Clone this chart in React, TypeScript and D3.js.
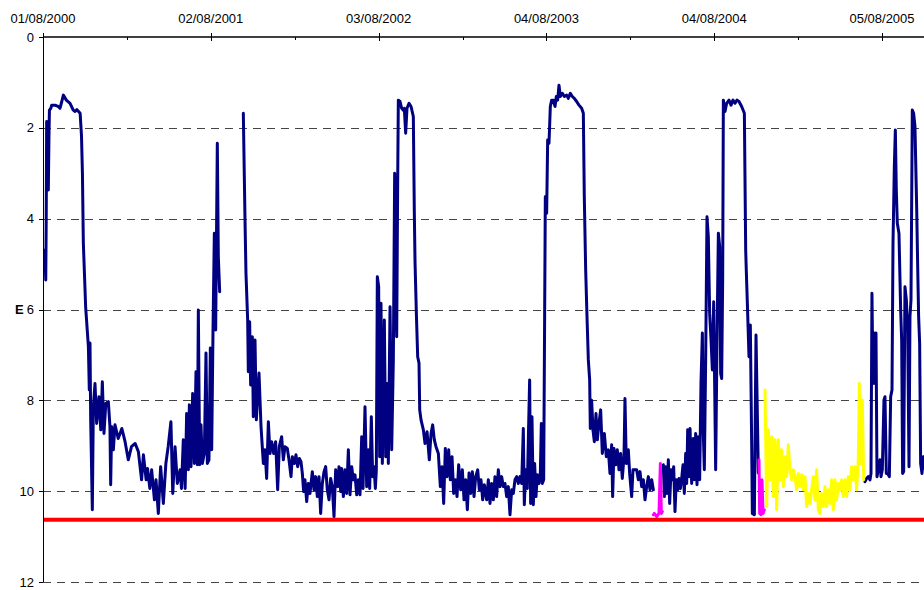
import React from "react";
import * as d3 from "d3";

type Pt = [number, number];

// x in days since 01/08/2000, y = depth value
const xTickDays = [0, 366, 732, 1098, 1464, 1830];
const xTickLabels = ["01/08/2000", "02/08/2001", "03/08/2002", "04/08/2003", "04/08/2004", "05/08/2005"];
const minorTickDays = [183, 549, 915, 1281, 1647];
const yTicks = [0, 2, 4, 6, 8, 10, 12];
const gridTicks = [2, 4, 6, 8, 10, 12];
const thresholdDepth = 10.63;

const navySeg1: Pt[] = [
  [4, 4.69], [6, 5.35], [7, 4.0], [8, 1.86], [10, 1.9], [11.6, 3.37], [13, 2.2], [14, 1.61], [17, 1.57], [19, 1.5], [26, 1.5], [33, 1.53], [37, 1.57], [41, 1.42], [44.4, 1.28], [51, 1.39], [59, 1.46], [66, 1.61], [70, 1.64], [74, 1.6], [81, 1.68], [84, 2.19], [86, 3.0], [88, 4.54], [93, 5.94], [99, 6.82], [101, 7.77], [102.5, 6.74], [104, 8.43], [107.6, 10.41], [109.8, 8.14], [113.4, 7.63], [117, 8.51], [122, 7.92], [126, 8.65], [129.4, 7.59], [133, 8.73], [137, 8.07], [142.5, 8.03], [146, 8.58], [147.6, 9.86], [149.8, 8.58], [153.4, 9.09], [157, 8.54], [164, 8.84], [172, 8.62], [179, 8.91], [186, 9.31], [193, 9.02], [201, 8.95], [208, 9.13], [215, 9.75], [219, 9.2], [225, 9.75], [228, 9.5], [233, 9.94], [237, 9.53], [243, 10.19], [246.5, 9.75], [251.5, 10.49], [256.6, 9.46], [262.5, 10.27], [268, 9.39], [273, 9.02], [279, 8.47], [283, 10.05], [288, 9.02], [293, 9.83], [299, 9.53], [302, 9.94], [306, 8.87], [310, 9.94],
  [313.3, 8.29], [317, 9.53], [319.2, 8.1], [322.8, 9.46], [326.4, 7.85], [330.1, 9.39], [333.7, 7.37], [336.6, 9.42], [338.8, 6.01], [341.7, 9.42], [344.6, 8.54], [347.5, 9.39], [351.9, 9.17], [355.5, 6.96], [358.4, 9.39], [362, 9.31], [365, 6.85], [367.9, 9.09], [370.8, 6.45], [373.7, 4.32], [376.6, 6.45], [380.2, 2.34], [382.4, 4.84], [385.3, 5.61],
];

const navySeg2: Pt[] = [
  [436.9, 1.68], [440.6, 4.03], [442.7, 5.2], [446.4, 6.23], [447.8, 7.37], [450.7, 6.27], [452.9, 7.66], [456.6, 6.6], [458.7, 8.36], [462.4, 6.67], [465.3, 8.43], [471.1, 7.4], [475.5, 8.58], [480.6, 9.39], [484.2, 9.09], [487.8, 9.72], [491.5, 8.47], [495.1, 9.17], [498.7, 8.91], [503.1, 9.17], [507.4, 8.91], [511.8, 9.97], [515.4, 9.02], [520.5, 8.8], [524.2, 9.31], [527.8, 9.02], [532.9, 9.06], [536.5, 9.31], [540.9, 9.68], [543.8, 9.24], [548.2, 9.39], [551.8, 9.2], [555.4, 9.46], [559.1, 9.28], [562.7, 9.35], [565.6, 9.61], [568.5, 10.01], [571.4, 9.75], [575.1, 10.23], [578.7, 9.83], [582.3, 10.05], [587.4, 9.57], [591.1, 9.97], [594.7, 9.68], [598.3, 10.12], [602, 9.68], [605.6, 10.49], [609.2, 9.83], [612.9, 9.57], [616.5, 9.46], [620.1, 9.97], [623.8, 10.19], [627.4, 9.72], [631, 9.9], [634.7, 10.56], [638.3, 9.53], [642.7, 9.9],
  [645.6, 9.46], [649.3, 10.01], [651.4, 9.5], [655.1, 10.12], [658.7, 9.53], [662.3, 10.05], [666, 9.09], [669.6, 10.08], [673.3, 9.46], [676.9, 9.75], [680.5, 9.64], [684.2, 10.08], [687.8, 9.75], [691.4, 10.08], [695.1, 8.8], [698, 9.94], [702.3, 8.14], [706, 9.9], [709.6, 9.09], [712.5, 9.94], [716.1, 8.36], [719, 9.68], [722, 9.46], [724.9, 9.94], [727, 9.53], [729.2, 5.28], [732.1, 5.5], [734.3, 9.24], [737.2, 5.86], [740.1, 9.39], [744.5, 6.23], [747.4, 9.24], [750.3, 7.63], [753.2, 9.39], [756.9, 5.94], [760.5, 9.09], [764.1, 7.11], [767, 3.0], [769.2, 5.35], [771.4, 6.6], [773.6, 3.15], [775, 1.39], [778.7, 1.42], [782.3, 1.57], [785.9, 1.61], [788.1, 1.57], [791, 2.12], [793.9, 1.57], [798.3, 1.46], [802.7, 1.53], [807.7, 1.75], [809.9, 3.88], [811.4, 4.95], [814.3, 6.08], [817.2, 7.04], [820.1, 7.18], [821.6, 8.21], [824.5, 8.43], [829.6, 8.65], [833.2, 8.95], [837.6, 8.69], [842.6, 9.31], [846.3, 8.73], [849.9, 8.54], [853.5, 8.87], [857.2, 9.02], [862.3, 9.17], [866.6, 9.9], [870.3, 9.46], [873.9, 10.27], [877.5, 9.06], [881.2, 9.68], [884.8, 9.09], [888.4, 9.75], [892.1, 9.24], [895.7, 10.05], [899.3, 9.75], [903, 10.12], [906.6, 9.42], [911, 9.97], [914.6, 9.53], [918.3, 10.19], [921.9, 9.75], [925.5, 10.41], [929.2, 9.6], [932.8, 10.05], [936.4, 9.57], [940.1, 10.12], [943.7, 9.68], [948.1, 9.53], [951.7, 9.97], [955.3, 9.75], [959, 10.19], [962.6, 9.86],
  [967.6, 10.19], [971.3, 9.75], [974.9, 10.27], [978.5, 9.83], [982.2, 10.19], [985.8, 9.68], [989.4, 10.12], [993.1, 9.53], [996.7, 9.9], [1000.4, 9.68], [1004, 9.9], [1007.6, 9.83], [1011.3, 10.12], [1014.9, 9.9], [1018.5, 10.52], [1022.2, 9.97], [1025.8, 10.05], [1029.4, 9.75], [1033.1, 9.68], [1036.7, 9.83], [1040.3, 9.68], [1044, 9.83], [1047.6, 8.62], [1049.8, 10.3], [1052.7, 9.53], [1056.3, 9.94], [1058.5, 8.87], [1061.4, 7.55], [1063.6, 10.27], [1066.5, 8.36], [1069.4, 10.3], [1072.3, 9.39], [1075.2, 10.12], [1078.1, 9.64], [1081.8, 9.83], [1084.7, 9.61], [1086.9, 8.51], [1089, 9.83], [1092, 9.75], [1094.1, 6.16], [1095.6, 3.52], [1098.5, 3.88], [1100.7, 2.27], [1103.6, 2.34], [1106.5, 1.53], [1109.4, 1.39], [1113, 1.39], [1116.7, 1.53], [1119.6, 1.31], [1122.5, 1.39], [1125.4, 1.06], [1128.3, 1.31], [1132.7, 1.24], [1137, 1.31], [1142.1, 1.28], [1145.8, 1.35], [1150.1, 1.24], [1154.5, 1.31], [1158.8, 1.35], [1163.9, 1.42], [1169, 1.5], [1174.8, 1.57], [1178.5, 1.68], [1180.6, 3.52], [1183.6, 5.13], [1186.5, 6.16], [1189.4, 7.11], [1192.3, 7.55], [1193.7, 8.62], [1196.6, 8.0], [1199.5, 8.65], [1202.5, 8.91], [1206.1, 8.29], [1209, 8.87], [1212.6, 8.51], [1216.3, 8.21], [1219.9, 9.17], [1224.3, 8.73], [1228.6, 9.24], [1233, 9.09], [1236.6, 9.61], [1240.3, 8.98], [1242.4, 10.12], [1245.3, 9.06], [1249, 9.42], [1252.6, 9.09], [1256.3, 9.53], [1259.9, 9.17], [1263.5, 9.72], [1267.2, 9.24], [1269.3, 7.96], [1272.2, 9.39], [1276.6, 9.09], [1279.5, 9.61], [1283.9, 10.12], [1286.8, 9.53],
  [1294.8, 9.53], [1298.5, 9.75], [1302.1, 9.57], [1305.7, 9.9], [1309.4, 9.75], [1313, 10.19], [1316.6, 9.9], [1320.3, 9.68], [1323.9, 9.97], [1327.6, 9.75], [1331.2, 9.97],
];

const navySeg3: Pt[] = [
  [1353, 9.42], [1355.2, 10.12], [1358.1, 9.46], [1361, 10.05], [1363.9, 9.31], [1366.8, 10.27], [1369.7, 9.53], [1372.6, 9.75], [1375.5, 9.46], [1378.4, 10.45], [1381.3, 9.75], [1384.3, 9.97], [1387.2, 9.72], [1390.1, 9.94], [1393, 9.72], [1395.9, 9.42], [1398.8, 10.05], [1401.7, 9.17], [1403.9, 9.83], [1406.1, 8.65], [1409, 9.68], [1411.2, 8.62], [1414.8, 9.83], [1418.4, 8.84], [1420.6, 9.75], [1423.5, 8.73], [1426.4, 9.86], [1429.3, 8.8], [1432.2, 9.75], [1435.1, 7.63], [1438.1, 6.52], [1440.2, 8.73], [1442.4, 9.53], [1445.3, 7.11], [1448.2, 3.96], [1451.1, 4.4], [1454, 6.08], [1457, 6.67], [1459.9, 7.33], [1462.8, 5.83], [1465, 7.7], [1467.1, 9.53], [1470, 6.74], [1473, 4.32], [1475.9, 4.62], [1478, 7.41], [1480.2, 7.52], [1482.4, 5.35], [1483.9, 1.39], [1487.5, 1.64], [1491.1, 1.46], [1496.2, 1.39], [1500.6, 1.5], [1504.9, 1.39], [1509.3, 1.46], [1513.7, 1.39], [1518, 1.42], [1523.8, 1.53], [1529.7, 1.68], [1532.6, 4.69], [1534, 5.17], [1536.9, 6.08], [1539.8, 7.04], [1542.7, 6.34], [1545.7, 9.02], [1547.1, 10.49], [1551.5, 10.52], [1555.1, 6.56], [1558, 8.29], [1560.2, 9.6],
];

const navySeg4: Pt[] = [
  [1792.8, 9.79], [1796.4, 9.72], [1800, 9.68], [1803.7, 9.75], [1805.9, 9.61], [1808, 5.64], [1810.2, 7.63], [1812.4, 6.52], [1814.6, 7.63], [1816.8, 6.52], [1819, 9.68], [1821.9, 9.53], [1825.5, 9.31], [1827.7, 9.68], [1830.6, 9.53], [1834.2, 7.99], [1836.4, 7.92], [1839.3, 9.61], [1842.2, 9.61], [1845.9, 9.68], [1848.8, 7.92], [1851.7, 7.77], [1853.9, 4.54], [1856.8, 2.85], [1859, 2.05], [1861.1, 3.37], [1863.3, 4.1], [1866.9, 4.32], [1870.6, 6.01], [1872.8, 6.67], [1874.9, 9.61], [1877.1, 9.57], [1880, 5.5], [1883, 5.79], [1885.9, 6.45], [1888.8, 9.46], [1890.9, 6.16], [1893.1, 5.79], [1894.6, 3.66], [1896, 1.61], [1898.9, 1.68], [1901.8, 1.97], [1905.5, 3.74], [1907.6, 4.98], [1909.8, 6.16], [1912, 6.74], [1914.2, 9.39], [1917.1, 9.61], [1920, 9.24], [1923, 9.5],
];

const magentaSeg1: Pt[] = [
  [1331.2, 10.52], [1333.4, 10.49], [1338.5, 10.56], [1343.5, 10.49], [1346.5, 9.39], [1348.6, 10.49], [1350.8, 10.45],
];
const magentaSeg2: Pt[] = [
  [1561.6, 9.31], [1563.1, 10.49], [1566, 10.52], [1568.2, 9.75], [1570.4, 10.49], [1573.3, 10.41],
];

const yellowSeg: Pt[] = [
  [1574.7, 7.77], [1578.4, 10.34], [1582, 8.65], [1585.6, 9.75], [1589.3, 8.8], [1592.9, 10.12], [1596.5, 8.87], [1600.2, 10.41], [1603.8, 8.87], [1607.4, 9.75], [1611.1, 9.09], [1614.7, 9.9],
  [1618.3, 9.24], [1621.9, 9.68], [1625.6, 8.98], [1629.2, 9.53], [1632.8, 9.75], [1636.5, 9.53], [1640.1, 9.68], [1643.7, 9.97], [1647.4, 9.61], [1651, 9.9], [1654.7, 9.64], [1658.3, 9.97], [1661.9, 9.68], [1665.6, 10.34], [1669.2, 10.05], [1672.8, 10.27], [1676.5, 9.97], [1680.1, 9.68], [1683.7, 10.19], [1687.4, 9.53], [1691, 10.41], [1694.6, 10.49], [1698.3, 10.05], [1701.9, 10.34], [1705.5, 9.9], [1709.2, 10.34], [1712.8, 9.97], [1716.5, 10.27], [1720.1, 9.75], [1723.7, 10.41], [1727.4, 9.75], [1731, 10.19], [1734.6, 9.83], [1738.3, 9.97], [1741.9, 9.75], [1745.5, 10.12], [1749.2, 9.75], [1752.8, 10.12], [1756.4, 9.68], [1760.1, 9.97], [1763.7, 9.46], [1767.3, 9.75], [1771, 9.46], [1774.6, 9.97], [1778.2, 9.31], [1780.4, 7.63], [1783.3, 9.39], [1787, 7.99], [1789.9, 9.75],
];

const navySegments = [navySeg1, navySeg2, navySeg3, navySeg4];
const magentaSegments = [magentaSeg1, magentaSeg2];
const yellowSegments = [yellowSeg];

export default function App() {
  const W = 924;
  const H = 590;
  const left = 43;
  const top = 37;
  const bottom = 582;
  const x = d3.scaleLinear().domain([0, 1921.5]).range([left, W]);
  const y = d3.scaleLinear().domain([0, 12]).range([top, bottom]);
  const line = d3.line<Pt>().x((d) => x(d[0])).y((d) => y(d[1]));
  const font = "'Liberation Sans', Arial, sans-serif";

  return (
    <svg
      width={W}
      height={H}
      style={{ position: "absolute", left: 0, top: 0, display: "block", background: "#fff" }}
      fontFamily={font}
    >
      <rect x={0} y={0} width={W} height={H} fill="#fff" />
      {gridTicks.map((t) => (
        <line
          key={"g" + t}
          x1={left}
          x2={W}
          y1={Math.round(y(t)) + 0.5}
          y2={Math.round(y(t)) + 0.5}
          stroke="#444"
          strokeWidth={1}
          strokeDasharray="8,6"
        />
      ))}
      {navySegments.map((s, i) => (
        <path key={"n" + i} d={line(s) || ""} fill="none" stroke="#000080" strokeWidth={3} strokeLinejoin="round" strokeLinecap="round" />
      ))}
      {magentaSegments.map((s, i) => (
        <path key={"m" + i} d={line(s) || ""} fill="none" stroke="#ff00ff" strokeWidth={3} strokeLinejoin="round" strokeLinecap="round" />
      ))}
      {yellowSegments.map((s, i) => (
        <path key={"yl" + i} d={line(s) || ""} fill="none" stroke="#ffff00" strokeWidth={3} strokeLinejoin="round" strokeLinecap="round" />
      ))}
      <line x1={left} x2={W} y1={y(thresholdDepth)} y2={y(thresholdDepth)} stroke="#ff0000" strokeWidth={4} />
      {/* left axis */}
      <line x1={left + 0.5} x2={left + 0.5} y1={top} y2={bottom} stroke="#000" strokeWidth={1} />
      {yTicks.map((t) => (
        <g key={"yt" + t}>
          <line x1={left - 4} x2={left} y1={Math.round(y(t)) + 0.5} y2={Math.round(y(t)) + 0.5} stroke="#000" strokeWidth={1} />
          <text x={34} y={y(t)} dy="0.35em" textAnchor="end" fontSize={13} fill="#000">
            {t}
          </text>
        </g>
      ))}
      <text x={15} y={y(6)} dy="0.35em" fontSize={13} fontWeight="bold" fill="#000">
        E
      </text>
      {/* top axis */}
      <line x1={left} x2={W} y1={top} y2={top} stroke="#000" strokeWidth={1.5} />
      {xTickDays.map((d, i) => (
        <g key={"xt" + d}>
          <line x1={Math.round(x(d)) + 0.5} x2={Math.round(x(d)) + 0.5} y1={top - 4} y2={top + 4} stroke="#000" strokeWidth={1} />
          <text x={x(d)} y={22.5} textAnchor="middle" fontSize={13} fill="#000">
            {xTickLabels[i]}
          </text>
        </g>
      ))}
      {minorTickDays.map((d) => (
        <line key={"mt" + d} x1={Math.round(x(d)) + 0.5} x2={Math.round(x(d)) + 0.5} y1={top} y2={top + 3} stroke="#000" strokeWidth={1} />
      ))}
    </svg>
  );
}
